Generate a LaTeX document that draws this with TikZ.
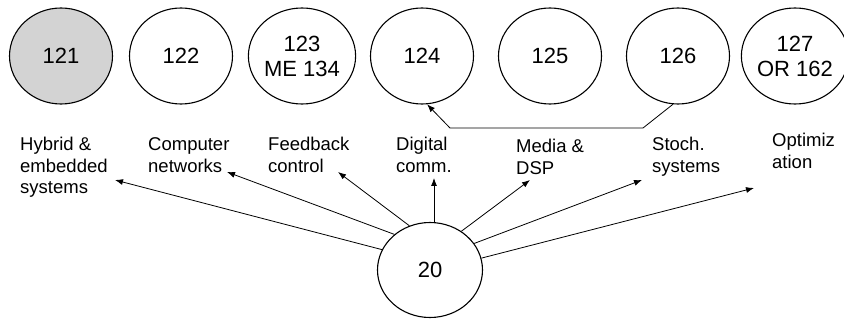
\documentclass[tikz,border=0pt]{standalone}
\usepackage{fontspec}
\setmainfont{Liberation Sans}
\usetikzlibrary{shapes.geometric,arrows.meta}
\definecolor{shade}{RGB}{211,211,211}
\tikzset{
  course/.style={ellipse, draw=black, line width=1.1pt, inner sep=0pt,
    minimum width=103pt, minimum height=96pt, align=center,
    font=\fontsize{22}{25}\selectfont},
  % placed by the baseline of the last line
  topic/.style={anchor=base west, inner sep=0pt, align=left,
    font=\fontsize{18.5}{21.5}\selectfont},
  link/.style={line width=0.8pt, -{Latex[length=8pt,width=6pt]}}
}
\begin{document}
\begin{tikzpicture}[x=1pt,y=-1pt]
\useasboundingbox (0,0) rectangle (844,320);

% course circles
\node[course, fill=shade] (c121) at (61,56) {121};
\node[course] (c122) at (181,56) {122};
\node[course] (c123) at (302,56) {123\\ME 134};
\node[course] (c124) at (422,56) {124};
\node[course] (c125) at (550,56) {125};
\node[course] (c126) at (678,56) {126};
\node[course, minimum width=98pt] (c127) at (795,56) {127\\OR 162};

% prerequisite path 126 -> 124
\coordinate (p1) at (643,128);
\coordinate (p2) at (450,128);
\draw[link] (c126.264) -- (p1) -- (p2) -- (c124.276);

% topic labels
\node[topic] (lhyb) at (20,194) {Hybrid \&\\embedded\\systems};
\node[topic] (lnet) at (148,172.5) {Computer\\networks};
\node[topic] (lfb)  at (268,172.5) {Feedback\\control};
\node[topic] (ldig) at (396,172.5) {Digital\\comm.};
\node[topic] (lmed) at (516,174.5) {Media \&\\DSP};
\node[topic] (lsto) at (652,172.5) {Stoch.\\systems};
\node[topic] (lopt) at (772,168.5) {Optimiz\\ation};

% core course
\node[course, minimum width=105pt, minimum height=95pt] (c20) at (430,270) {20};

% arrow ends
\coordinate (thyb) at (115,180);
\coordinate (tnet) at (227,172);
\coordinate (tfb)  at (338,172);
\coordinate (tdig) at (434,178);
\coordinate (tmed) at (530,180);
\coordinate (tsto) at (642,180);
\coordinate (topt) at (754,188);

\draw[link] (c20.157) -- (thyb);
\draw[link] (c20.135) -- (tnet);
\draw[link] (c20.115) -- (tfb);
\draw[link] (tdig |- c20.north) -- (tdig);
\draw[link] (c20.51) -- (tmed);
\draw[link] (c20.31) -- (tsto);
\draw[link] (c20.13) -- (topt);
\end{tikzpicture}
\end{document}
